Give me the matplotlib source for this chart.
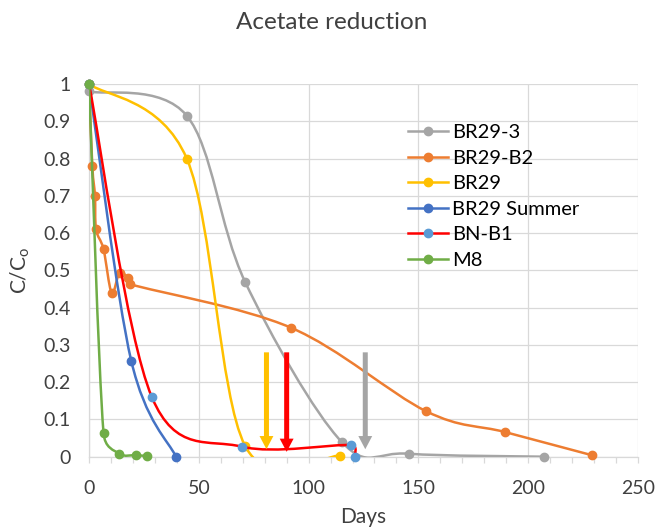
import numpy as np
import matplotlib
matplotlib.use("Agg")
import matplotlib.pyplot as plt
from matplotlib.path import Path
from matplotlib.patches import PathPatch, FancyArrowPatch
from matplotlib.lines import Line2D

plt.rcParams["font.family"] = ["Lato", "DejaVu Sans"]

# data (days, C/Co)
br29_3_days = [0, 44.5, 71, 115, 145.5, 207]
br29_3_vals = [0.98, 0.915, 0.47, 0.04, 0.008, 0.0]

br29_b2_days = [0, 1.5, 2.7, 3.2, 6.6, 10.3, 13.9, 17.6, 18.7, 92, 153.5, 189.5, 229]
br29_b2_vals = [1.0, 0.78, 0.70, 0.61, 0.557, 0.44, 0.494, 0.48, 0.463, 0.346, 0.122, 0.066, 0.004]

br29_days = [0, 44.5, 71, 114.5]
br29_vals = [1.0, 0.80, 0.03, 0.003]

summer_days = [0, 19.2, 39.6]
summer_vals = [1.0, 0.258, 0.0]

bnb1_days = [0, 28.6, 69.5, 119.5, 121]
bnb1_vals = [1.0, 0.16, 0.027, 0.031, 0.0]

m8_days = [0, 6.6, 13.8, 21.4, 26.5]
m8_vals = [1.0, 0.064, 0.008, 0.004, 0.002]

series_names = ["BR29-3", "BR29-B2", "BR29", "BR29 Summer", "BN-B1", "M8"]
line_colors = ["#A5A5A5", "#ED7D31", "#FFC000", "#4472C4", "#FF0000", "#70AD47"]
marker_colors = ["#A5A5A5", "#ED7D31", "#FFC000", "#4472C4", "#5B9BD5", "#70AD47"]

# arrows marking the end of the reduction
arrow_days = [80.8, 90, 125.8]
arrow_top = [0.28, 0.28, 0.28]
arrow_tip = [0.02, 0.013, 0.02]
arrow_colors = ["#FFC000", "#FF0000", "#A5A5A5"]

text_color = "#404040"
grid_color = "#D9D9D9"


def smooth_path(ax, xs, ys, cap=0.6):
    # excel-like smoothed line: catmull-rom bezier, control arms capped by segment length
    pts = np.column_stack([xs, ys]).astype(float)
    disp = ax.transData.transform(pts)
    n = len(pts)
    verts = [pts[0]]
    codes = [Path.MOVETO]

    def arm(a, b, seg_len):
        t = (pts[b] - pts[a]) / 6
        tl = np.hypot(*((disp[b] - disp[a]) / 6))
        if tl > cap * seg_len and tl > 0:
            t = t * cap * seg_len / tl
        return t

    for i in range(n - 1):
        i0 = max(i - 1, 0)
        i3 = min(i + 2, n - 1)
        d12 = np.hypot(*(disp[i + 1] - disp[i]))
        c1 = pts[i] + arm(i0, i + 1, d12)
        c2 = pts[i + 1] - arm(i, i3, d12)
        verts += [c1, c2, pts[i + 1]]
        codes += [Path.CURVE4] * 3
    return Path(verts, codes)


fig = plt.figure(figsize=(6.57, 5.29), dpi=100)
ax = fig.add_axes([0.1355, 0.1367, 0.8356, 0.7045])
ax.set_xlim(0, 250)
ax.set_ylim(0, 1)

all_days = [br29_3_days, br29_b2_days, br29_days, summer_days, bnb1_days, m8_days]
all_vals = [br29_3_vals, br29_b2_vals, br29_vals, summer_vals, bnb1_vals, m8_vals]

handles = []
for k, (d, v) in enumerate(zip(all_days, all_vals)):
    path = smooth_path(ax, d, v)
    ax.add_patch(PathPatch(path, fill=False, edgecolor=line_colors[k], lw=1.8,
                           capstyle="round", joinstyle="round", zorder=3 + 2 * k))
    ax.plot(d, v, linestyle="none", marker="o", ms=6, color=marker_colors[k],
            clip_on=False, zorder=4 + 2 * k)
    handles.append(Line2D([], [], color=line_colors[k], lw=1.8, marker="o", ms=6,
                          markerfacecolor=marker_colors[k], markeredgecolor=marker_colors[k]))

for x, top, tip, c in zip(arrow_days, arrow_top, arrow_tip, arrow_colors):
    ax.add_patch(FancyArrowPatch((x, top), (x, tip), mutation_scale=10,
                                 arrowstyle="simple,head_width=1.0,head_length=0.95,tail_width=0.36",
                                 color=c, lw=0, shrinkA=0, shrinkB=0, zorder=20))

# axes styling
ax.set_xticks(np.arange(0, 251, 50))
ax.set_xticks(np.arange(0, 251, 10), minor=True)
ax.set_yticks(np.arange(0, 1.01, 0.1))
ax.set_yticklabels([f"{t:g}" for t in np.round(np.arange(0, 1.01, 0.1), 1)])
ax.grid(True, which="major", color=grid_color, lw=0.9, zorder=0)
ax.set_axisbelow(True)
for s in ["top", "right"]:
    ax.spines[s].set_visible(False)
for s in ["left", "bottom"]:
    ax.spines[s].set_color(grid_color)
    ax.spines[s].set_linewidth(0.9)
ax.tick_params(axis="x", which="both", direction="out", length=4, color=grid_color,
               width=0.9, labelsize=14, labelcolor=text_color, pad=13)
ax.tick_params(axis="y", length=0, labelsize=14, labelcolor=text_color, pad=13)

ax.set_xlabel("Days", fontsize=15, color=text_color, labelpad=7)
ax.set_ylabel("C/C$_\\mathregular{o}$", fontsize=15, color=text_color, labelpad=8)
fig.suptitle("Acetate reduction", fontsize=17.5, color=text_color, x=0.505, y=0.978)

ax.legend(handles, series_names, loc="upper left", bbox_to_anchor=(0.609, 0.781),
          bbox_transform=fig.transFigure, frameon=False, fontsize=14.5,
          handlelength=2.0, handletextpad=0.2, labelspacing=0.42, borderaxespad=0)

fig.savefig("out.png", dpi=100)
